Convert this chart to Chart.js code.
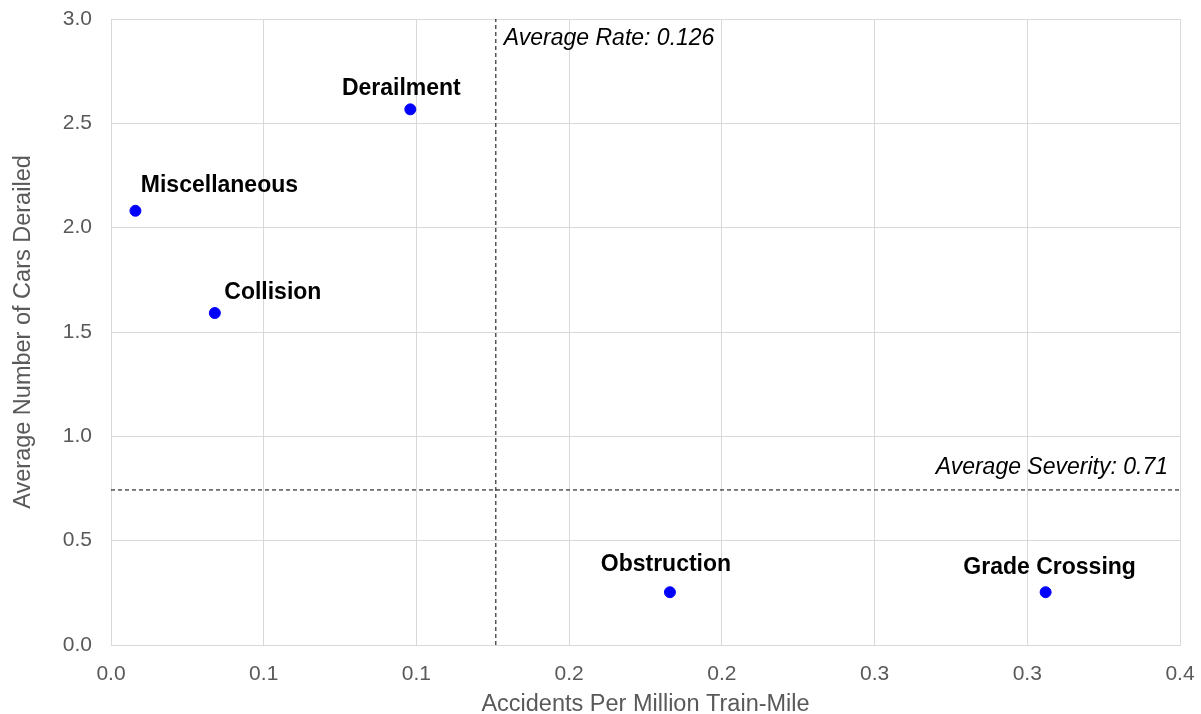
<!DOCTYPE html>
<html>
<head>
<meta charset="utf-8">
<script src="https://cdn.jsdelivr.net/npm/chart.js@4"></script>
<style>
  html, body { margin: 0; padding: 0; background: #fff; }
  #wrap { width: 1201px; height: 714px; }
</style>
</head>
<body>
<div id="wrap"><canvas id="chart" width="1201" height="714"></canvas></div>
<script>
// Accident categories and values
const categories = ["Derailment", "Miscellaneous", "Collision", "Obstruction", "Grade Crossing"];
const accidentRate = [0.098, 0.008, 0.034, 0.183, 0.306];
const carsDerailed = [2.567, 2.081, 1.591, 0.253, 0.253];

// reference lines
const averageRate = 0.126;
const averageSeverity = 0.743;
const averageRateLabel = "Average Rate: 0.126";
const averageSeverityLabel = "Average Severity: 0.71";

// Excel-style tick labels (step 0.05 shown with one decimal)
const xTickLabels = ["0.0", "0.1", "0.1", "0.2", "0.2", "0.3", "0.3", "0.4"];
const yTickLabels = ["0.0", "0.5", "1.0", "1.5", "2.0", "2.5", "3.0"];

// label placement (pixels from point centre)
const labelShift = [[-9, -21], [84, -25], [58, -20], [-4, -28], [4, -25]];

const FONT = "'Liberation Sans', Arial, sans-serif";
const GREY = "#595959";
const GRID = "#d9d9d9";

// Draws the category names and the reference-line captions
const labelPlugin = {
    id: "pointLabels",
    afterDatasetsDraw(chart) {
        const ctx = chart.ctx;
        const x = chart.scales.x, y = chart.scales.y;
        ctx.save();
        ctx.fillStyle = "#000";
        ctx.font = "bold 23px " + FONT;
        ctx.textAlign = "center";
        ctx.textBaseline = "middle";
        categories.forEach((name, i) => {
            const px = x.getPixelForValue(accidentRate[i]);
            const py = y.getPixelForValue(carsDerailed[i]);
            ctx.fillText(name, px + labelShift[i][0], py + labelShift[i][1]);
        });
        ctx.font = "italic 23px " + FONT;
        ctx.textAlign = "left";
        ctx.fillText(averageRateLabel, x.getPixelForValue(averageRate) + 8, y.top + 20);
        ctx.textAlign = "right";
        ctx.fillText(averageSeverityLabel, x.right - 12, y.getPixelForValue(averageSeverity) - 22);
        ctx.restore();
    }
};

const ctx = document.getElementById("chart").getContext("2d");
new Chart(ctx, {
    type: "scatter",
    data: {
        datasets: [{
            label: "Accidents",
            data: accidentRate.map((v, i) => ({ x: v, y: carsDerailed[i] })),
            backgroundColor: "#0000ff",
            borderColor: "#0000ff",
            pointRadius: 5.5,
            pointHoverRadius: 5.5
        }, {
            label: "Average Rate",
            type: "line",
            data: [{ x: averageRate, y: 0 }, { x: averageRate, y: 3 }],
            borderColor: "#000",
            borderWidth: 1,
            borderDash: [4, 3],
            pointRadius: 0
        }, {
            label: "Average Severity",
            type: "line",
            data: [{ x: 0, y: averageSeverity }, { x: 0.35, y: averageSeverity }],
            borderColor: "#000",
            borderWidth: 1,
            borderDash: [4, 3],
            pointRadius: 0
        }]
    },
    options: {
        responsive: false,
        animation: false,
        layout: { padding: { top: 19, right: 21, left: 0, bottom: 0 } },
        plugins: {
            legend: { display: false },
            tooltip: { enabled: false }
        },
        scales: {
            x: {
                type: "linear",
                min: 0,
                max: 0.35,
                afterFit: s => { s.height = 69; s.paddingLeft = 0; s.paddingRight = 0; },
                afterBuildTicks: s => { s.ticks = xTickLabels.map((t, i) => ({ value: i * 0.05 })); },
                ticks: {
                    color: GREY,
                    font: { family: FONT, size: 21 },
                    padding: 17,
                    callback: (v, i) => xTickLabels[i]
                },
                grid: { color: GRID, lineWidth: 1, drawTicks: false },
                border: { color: GRID },
                title: {
                    display: true,
                    text: "Accidents Per Million Train-Mile",
                    color: GREY,
                    font: { family: FONT, size: 23.5, lineHeight: 0.8 },
                    padding: { top: 0, bottom: 0 }
                }
            },
            y: {
                type: "linear",
                min: 0,
                max: 3,
                afterFit: s => { s.width = 111; s.paddingTop = 0; s.paddingBottom = 0; },
                afterBuildTicks: s => { s.ticks = yTickLabels.map((t, i) => ({ value: i * 0.5 })); },
                ticks: {
                    color: GREY,
                    font: { family: FONT, size: 21 },
                    padding: 19,
                    callback: (v, i) => yTickLabels[i]
                },
                grid: { color: GRID, lineWidth: 1, drawTicks: false },
                border: { color: GRID },
                title: {
                    display: true,
                    text: "Average Number of Cars Derailed",
                    color: GREY,
                    font: { family: FONT, size: 23.5 },
                    padding: { top: 9, bottom: 0 }
                }
            }
        }
    },
    plugins: [labelPlugin]
});
</script>
</body>
</html>
